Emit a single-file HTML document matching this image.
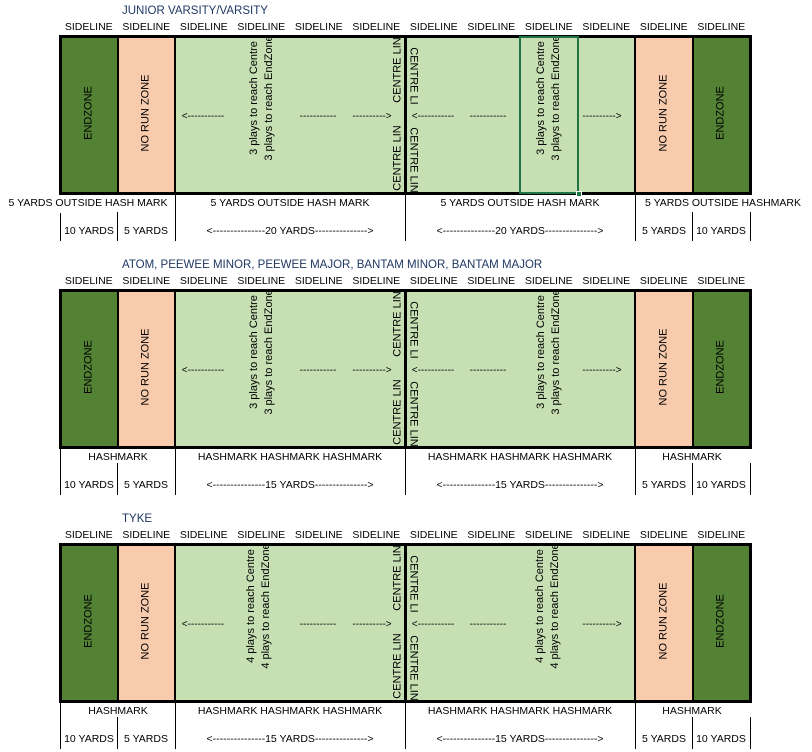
<!DOCTYPE html>
<html><head><meta charset="utf-8">
<style>
html,body{margin:0;padding:0;background:#fff;}
#root{position:relative;width:812px;height:752px;overflow:hidden;font-family:"Liberation Sans",Arial,sans-serif;color:#000;}
.t{position:absolute;white-space:nowrap;font-size:10.5px;line-height:12px;transform:translate(-50%,-50%);}
.r{position:absolute;white-space:nowrap;font-size:11px;line-height:15px;text-align:center;}
.box{position:absolute;box-sizing:border-box;}
.vl{position:absolute;width:1px;background:#000;}
.title{position:absolute;font-size:11.5px;color:#1F3864;white-space:nowrap;transform:translateY(-50%);}
</style></head>
<body>
<div id="root"></div>
<script>
const sectionTitles = ["JUNIOR VARSITY/VARSITY","ATOM, PEEWEE MINOR, PEEWEE MAJOR, BANTAM MINOR, BANTAM MAJOR","TYKE"];
const playsCounts = ["3","3","4"];
const sectionOffsets = [0,254,508];
const root = document.getElementById('root');
const colX = [60,117.5,175,232.5,290,347.5,405,462.5,520,577.5,635,692.5,750];

function add(cls, css, text){
  const d=document.createElement('div');
  d.className=cls; d.style.cssText=css;
  if(text!==undefined) d.innerHTML=text;
  root.appendChild(d); return d;
}
function rot(text, cx, cy, deg, name){
  const d=add('r','left:'+cx+'px;top:'+cy+'px;transform:translate(-50%,-50%) rotate('+deg+'deg);',text);
  
  
  return d;
}

sectionOffsets.forEach((o,si)=>{
  const tt=add('title','left:122px;top:'+(11+o)+'px;',sectionTitles[si]);
  
  
  for(let i=0;i<12;i++){
    const s=add('t','left:'+((colX[i]+colX[i+1])/2)+'px;top:'+(27+o)+'px;','SIDELINE');
    
    
  }
  const top=36+o, bot=194+o, h=bot-top;
  const fills=[['#548235',0,1,'endzone-left'],['#F8CBAD',1,2,'no-run-zone-left'],['#C6E0B4',2,10,'playing-field'],['#F8CBAD',10,11,'no-run-zone-right'],['#548235',11,12,'endzone-right']];
  fills.forEach(f=>{
    const b=add('box','left:'+colX[f[1]]+'px;top:'+top+'px;width:'+(colX[f[2]]-colX[f[1]])+'px;height:'+h+'px;background:'+f[0]+';');
    
    
  });
  [1,2,6,10,11].forEach(i=>{
    const l=add('box','left:'+(colX[i]-1)+'px;top:'+top+'px;width:'+(i==6?2.5:2)+'px;height:'+h+'px;background:#000;');
    
    
  });
  const br=add('box','left:59px;top:'+(top-1)+'px;width:693px;height:'+(h+2)+'px;border:3px solid #000;');
  
  
  const mid=top+h/2-2;
  rot('ENDZONE',89,mid,-90,'endzone-label');
  rot('NO RUN ZONE',146,mid,-90,'no-run-zone-label');
  rot('NO RUN ZONE',664,mid,-90,'no-run-zone-label');
  rot('ENDZONE',721,mid,-90,'endzone-label');
  const p=playsCounts[si];
  const ptxt=p+' plays to reach Centre<br>'+p+' plays to reach EndZone';
  rot(ptxt, si==2?259:262, top+62, -90,'plays-note-left');
  rot(ptxt, si==2?548:549, top+62, -90,'plays-note-right');
  const arrows=[['&lt;-----------',203],['-----------',318],['----------&gt;',372],['&lt;-----------',433],['-----------',488],['----------&gt;',602]];
  arrows.forEach(a=>{
    const d=add('t','left:'+a[1]+'px;top:'+(top+81)+'px;font-size:10px;',a[0]);
    
    
  });
  rot('CENTRE LIN',398,top+34,-90,'centre-line-label');
  rot('CENTRE LIN',398,top+122,-90,'centre-line-label');
  rot('CENTRE LI',413,top+40,90,'centre-line-label');
  rot('CENTRE LIN',413,top+124,90,'centre-line-label');
  if(si==0){
    const sel=add('box','left:519px;top:'+(top)+'px;width:60px;height:'+h+'px;border:2px solid #217346;');
    
    
    const hd=add('box','left:576px;top:'+(bot-3)+'px;width:6px;height:6px;background:#217346;border:1px solid #fff;');
    
    
  }
  // label row
  const ly=203+o, yy=231+o;
  let labels;
  if(si==0){
    labels=[['5 YARDS OUTSIDE HASH MARK',88],['5 YARDS OUTSIDE HASH MARK',290],['5 YARDS OUTSIDE HASH MARK',520],['5 YARDS OUTSIDE HASHMARK',723]];
  } else {
    labels=[['HASHMARK',118],['HASHMARK HASHMARK HASHMARK',290],['HASHMARK HASHMARK HASHMARK',520],['HASHMARK',692]];
  }
  labels.forEach(l=>{
    const d=add('t','left:'+l[1]+'px;top:'+ly+'px;',l[0]);
    
    
  });
  const yl=[['10 YARDS',89],['5 YARDS',146],['&lt;---------------'+(si==0?'20':'15')+' YARDS---------------&gt;',290],['&lt;---------------'+(si==0?'20':'15')+' YARDS---------------&gt;',520],['5 YARDS',664],['10 YARDS',721]];
  yl.forEach(l=>{
    const d=add('t','left:'+l[1]+'px;top:'+yy+'px;',l[0]);
    
    
  });
  const start2 = si==0?212:209;
  [[60,si==0?213:195],[117.5,start2],[175,195],[405,195],[635,195],[692.5,start2],[750,start2]].forEach(v=>{
    const d=add('vl','left:'+Math.round(v[0]-0.5)+'px;top:'+(v[1]+o)+'px;height:'+(241-v[1])+'px;');
    
    
  });
});
</script>
</body></html>
